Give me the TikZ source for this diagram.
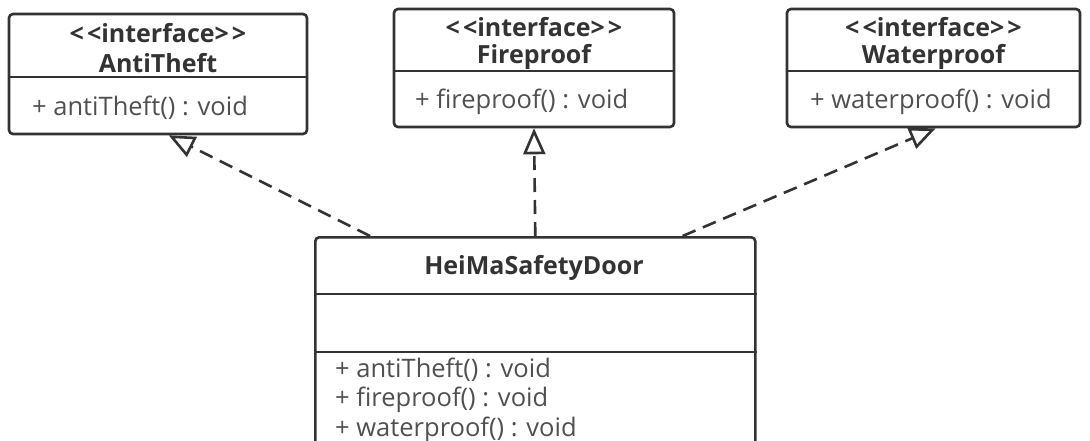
\documentclass[tikz,border=0pt]{standalone}
\usepackage{fontspec}
\setmainfont{Open Sans}
\usetikzlibrary{arrows.meta}
\definecolor{linec}{HTML}{333333}
\definecolor{titlec}{HTML}{333333}
\definecolor{methc}{HTML}{505050}
\newcommand{\stereo}{<\kern3pt<interface>\kern3pt>}
\tikzset{
  umlbox/.style={draw=linec, line width=2.6pt, rounded corners=4pt, fill=white, inner sep=0pt},
  divider/.style={draw=linec, line width=2.6pt},
  ttl/.style={font=\fontsize{25}{28}\selectfont\bfseries, text=titlec, inner sep=0pt},
  meth/.style={font=\fontsize{25.5}{28}\selectfont, text=methc, inner sep=0pt, anchor=west},
  realize/.style={draw=linec, line width=2.6pt, dash pattern=on 14pt off 8pt,
    -{Triangle[open, length=26pt, width=22pt, line width=2.6pt]}},
}
\begin{document}
\begin{tikzpicture}[x=1pt,y=-1pt]
\useasboundingbox (0,0) rectangle (1090,441);
\fill[white] (0,0) rectangle (1090,441);
\begin{scope}
\clip (0,0) rectangle (1090,441);
% AntiTheft
\node[umlbox, minimum width=298pt, minimum height=120pt] (anti) at (158,74) {};
\draw[divider] (anti.west |- 0,77) -- (anti.east |- 0,77);
\node[ttl] (antiS) at (158,33) {\stereo};
\node[ttl] (antiN) at (158,63) {AntiTheft};
\node[meth] (antiM) at (32,108) {+ antiTheft() : void};
% Fireproof
\node[umlbox, minimum width=280pt, minimum height=118pt] (fire) at (534,68) {};
\draw[divider] (fire.west |- 0,71) -- (fire.east |- 0,71);
\node[ttl] (fireS) at (534,27) {\stereo};
\node[ttl] (fireN) at (534,57) {Fireproof};
\node[meth] (fireM) at (415,102) {+ fireproof() : void};
% Waterproof
\node[umlbox, minimum width=293pt, minimum height=118pt] (water) at (933.5,68) {};
\draw[divider] (water.west |- 0,71) -- (water.east |- 0,71);
\node[ttl] (waterS) at (933.5,27) {\stereo};
\node[ttl] (waterN) at (933.5,57) {Waterproof};
\node[meth] (waterM) at (810,102) {+ waterproof() : void};
% HeiMaSafetyDoor
\node[umlbox, minimum width=440pt, minimum height=240pt, anchor=north west] (door) at (314,236) {};
\draw[divider] (door.west |- 0,294) -- (door.east |- 0,294);
\draw[divider] (door.west |- 0,352) -- (door.east |- 0,352);
\node[ttl] (doorN) at (534,268) {HeiMaSafetyDoor};
\node[meth] (doorM1) at (335,370) {+ antiTheft() : void};
\node[meth] (doorM2) at (335,400) {+ fireproof() : void};
\node[meth] (doorM3) at (335,430) {+ waterproof() : void};
% connectors
\draw[realize] ([xshift=56pt]door.north west) -- ([xshift=161pt]anti.south west);
\draw[realize] (door.north) -- (fire.south);
\draw[realize] ([xshift=-74pt]door.north east) -- ([xshift=150pt]water.south west);
\end{scope}
\end{tikzpicture}
\end{document}
